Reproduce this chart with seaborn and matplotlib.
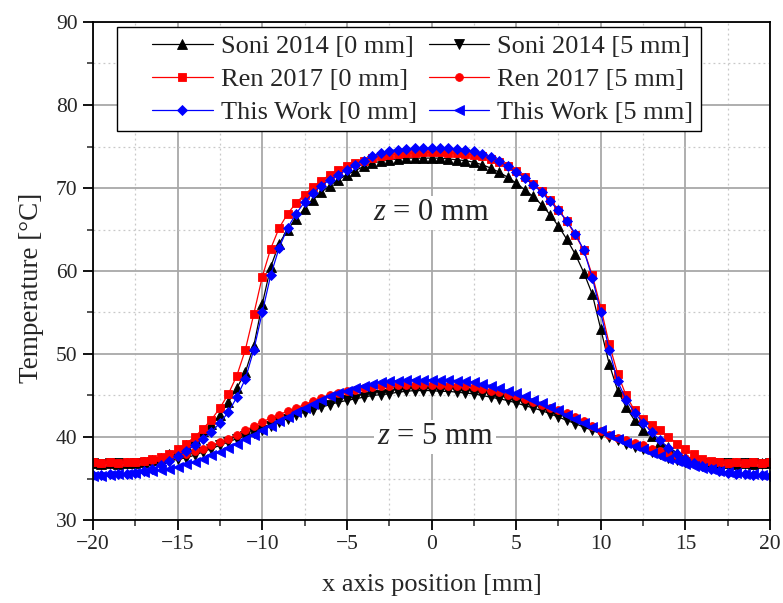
import numpy as np
import pandas as pd
import matplotlib
matplotlib.use("Agg")
import matplotlib.pyplot as plt
import seaborn as sns
from matplotlib.ticker import MultipleLocator
from matplotlib.legend_handler import HandlerLine2D

# ---------------- data ----------------
x_pos = [-20.0, -19.5, -19.0, -18.5, -18.0, -17.5, -17.0, -16.5, -16.0, -15.5,
         -15.0, -14.5, -14.0, -13.5, -13.0, -12.5, -12.0, -11.5, -11.0, -10.5,
         -10.0, -9.5, -9.0, -8.5, -8.0, -7.5, -7.0, -6.5, -6.0, -5.5,
         -5.0, -4.5, -4.0, -3.5, -3.0, -2.5, -2.0, -1.5, -1.0, -0.5,
         0.0, 0.5, 1.0, 1.5, 2.0, 2.5, 3.0, 3.5, 4.0, 4.5,
         5.0, 5.5, 6.0, 6.5, 7.0, 7.5, 8.0, 8.5, 9.0, 9.5,
         10.0, 10.5, 11.0, 11.5, 12.0, 12.5, 13.0, 13.5, 14.0, 14.5,
         15.0, 15.5, 16.0, 16.5, 17.0, 17.5, 18.0, 18.5, 19.0, 19.5, 20.0]

soni_0mm = [36.9, 36.8, 36.9, 36.8, 36.9, 36.9, 37.0, 37.2, 37.5, 37.9,
            38.4, 39.0, 39.8, 40.7, 41.6, 42.6, 44.2, 45.9, 47.8, 51.0,
            56.0, 60.5, 63.3, 65.0, 66.3, 67.5, 68.6, 69.5, 70.3, 71.0,
            71.6, 72.1, 72.6, 73.0, 73.2, 73.4, 73.5, 73.6, 73.6, 73.6,
            73.6, 73.6, 73.5, 73.4, 73.3, 73.1, 72.8, 72.4, 71.9, 71.3,
            70.6, 69.8, 69.0, 68.0, 66.8, 65.4, 63.8, 62.0, 59.8, 57.2,
            53.0, 48.8, 45.6, 43.6, 42.0, 40.9, 40.1, 39.4, 38.8, 38.1,
            37.6, 37.2, 37.0, 36.9, 36.8, 36.9, 36.8, 36.9, 36.8, 36.9, 36.9]

soni_5mm = [36.9, 36.8, 36.9, 36.9, 36.8, 36.9, 36.9, 37.0, 37.0, 37.1,
            37.3, 37.5, 37.8, 38.2, 38.6, 39.0, 39.4, 39.8, 40.1, 40.5,
            40.8, 41.3, 41.8, 42.2, 42.6, 43.0, 43.3, 43.6, 43.9, 44.2,
            44.4, 44.6, 44.8, 45.0, 45.1, 45.2, 45.4, 45.5, 45.6, 45.6,
            45.6, 45.5, 45.5, 45.4, 45.3, 45.2, 45.0, 44.8, 44.6, 44.4,
            44.1, 43.8, 43.5, 43.2, 42.8, 42.4, 42.0, 41.6, 41.2, 40.8,
            40.4, 40.0, 39.6, 39.2, 38.8, 38.5, 38.2, 37.9, 37.5, 37.2,
            37.0, 36.9, 36.9, 36.8, 36.9, 36.9, 36.8, 36.9, 36.9, 36.8, 36.9]

ren_0mm = [37.0, 36.9, 37.0, 36.9, 37.0, 37.0, 37.1, 37.3, 37.6, 38.0,
           38.5, 39.2, 40.0, 41.0, 42.1, 43.5, 45.2, 47.4, 50.5, 54.8,
           59.3, 62.7, 65.2, 66.9, 68.2, 69.2, 70.1, 70.9, 71.6, 72.2,
           72.6, 73.0, 73.3, 73.6, 73.8, 74.0, 74.1, 74.2, 74.2, 74.3,
           74.3, 74.3, 74.2, 74.2, 74.1, 74.0, 73.8, 73.5, 73.1, 72.6,
           72.0, 71.3, 70.5, 69.6, 68.6, 67.4, 66.0, 64.3, 62.5, 59.5,
           55.6, 51.2, 47.6, 45.0, 43.2, 42.2, 41.5, 40.8, 40.0, 39.2,
           38.5, 37.9, 37.4, 37.1, 37.0, 36.9, 37.0, 36.9, 37.0, 36.9, 37.0]

ren_5mm = [37.0, 36.9, 37.0, 36.9, 37.0, 37.0, 37.1, 37.2, 37.3, 37.5,
           37.7, 38.0, 38.3, 38.6, 39.0, 39.4, 39.8, 40.3, 40.8, 41.3,
           41.8, 42.3, 42.7, 43.1, 43.5, 43.9, 44.3, 44.7, 45.0, 45.3,
           45.5, 45.7, 45.9, 46.0, 46.1, 46.2, 46.3, 46.3, 46.3, 46.3,
           46.3, 46.3, 46.2, 46.2, 46.1, 46.0, 45.8, 45.6, 45.4, 45.1,
           44.9, 44.6, 44.2, 43.9, 43.5, 43.2, 42.9, 42.4, 41.9, 41.3,
           40.7, 40.3, 39.9, 39.6, 39.3, 39.0, 38.6, 38.3, 38.0, 37.7,
           37.5, 37.3, 37.1, 37.0, 37.0, 36.9, 37.0, 36.9, 37.0, 36.9, 37.0]

this_0mm = [35.4, 35.4, 35.5, 35.5, 35.6, 35.7, 35.9, 36.2, 36.6, 37.1,
            37.7, 38.3, 39.0, 39.8, 40.6, 41.7, 43.0, 44.8, 47.0, 50.5,
            55.0, 59.5, 62.8, 65.2, 66.9, 68.3, 69.4, 70.3, 71.0, 71.6,
            72.2, 72.8, 73.3, 73.8, 74.2, 74.5, 74.6, 74.7, 74.8, 74.8,
            74.8, 74.8, 74.8, 74.7, 74.6, 74.4, 74.1, 73.7, 73.2, 72.6,
            71.9, 71.2, 70.4, 69.5, 68.4, 67.3, 66.0, 64.5, 62.5, 59.2,
            55.0, 50.5, 46.7, 44.5, 42.9, 41.7, 40.6, 39.6, 38.7, 38.0,
            37.4, 36.9, 36.5, 36.2, 35.9, 35.7, 35.6, 35.5, 35.4, 35.4, 35.3]

this_5mm = [35.3, 35.3, 35.4, 35.5, 35.6, 35.7, 35.8, 35.9, 36.0, 36.2,
            36.4, 36.7, 37.0, 37.4, 37.8, 38.2, 38.7, 39.2, 39.7, 40.2,
            40.8, 41.3, 41.9, 42.4, 43.0, 43.5, 44.0, 44.5, 44.9, 45.3,
            45.6, 45.9, 46.2, 46.4, 46.6, 46.7, 46.8, 46.9, 46.9, 46.9,
            46.9, 46.9, 46.9, 46.8, 46.7, 46.6, 46.4, 46.2, 45.9, 45.6,
            45.3, 44.9, 44.5, 44.1, 43.6, 43.2, 42.7, 42.2, 41.7, 41.2,
            40.8, 40.3, 39.8, 39.3, 38.9, 38.5, 38.1, 37.7, 37.4, 37.1,
            36.8, 36.5, 36.3, 36.1, 35.9, 35.8, 35.7, 35.6, 35.5, 35.4, 35.3]

series_labels = ["Soni 2014 [0 mm]", "Soni 2014 [5 mm]",
                 "Ren 2017 [0 mm]", "Ren 2017 [5 mm]",
                 "This Work [0 mm]", "This Work [5 mm]"]
series_values = [soni_0mm, soni_5mm, ren_0mm, ren_5mm, this_0mm, this_5mm]
series_colors = ["black", "black", "#ff0000", "#ff0000", "#0000ff", "#0000ff"]
series_markers = ["^", "v", "s", "o", "D", "<"]

x_ticks = [-20, -15, -10, -5, 0, 5, 10, 15, 20]
y_ticks = [30, 40, 50, 60, 70, 80, 90]

# ---------------- style ----------------
sns.set_style("white")
plt.rcParams["font.family"] = ["Liberation Serif", "DejaVu Serif"]
plt.rcParams["mathtext.fontset"] = "custom"
plt.rcParams["mathtext.it"] = "Liberation Serif:italic"
plt.rcParams["mathtext.rm"] = "Liberation Serif"
plt.rcParams["axes.unicode_minus"] = True

fig = plt.figure(figsize=(7.83, 6.03), dpi=100)
ax = fig.add_axes([93 / 783, 83 / 603, 677 / 783, 498 / 603])

for lab, vals, col, mk in zip(series_labels, series_values, series_colors, series_markers):
    df = pd.DataFrame({"x": x_pos, "y": vals})
    msize = 6.8 if mk in ("^", "v", "<") else 5.6
    sns.lineplot(data=df, x="x", y="y", ax=ax, color=col, marker=mk,
                 markersize=msize, markeredgewidth=0.6, markeredgecolor=col,
                 linewidth=0.9, label=lab, sort=True, estimator=None)

ax.set_xlim(-20, 20)
ax.set_ylim(30, 90)
ax.set_xticks(x_ticks)
ax.set_yticks(y_ticks)
ax.xaxis.set_minor_locator(MultipleLocator(2.5))
ax.yaxis.set_minor_locator(MultipleLocator(5))
ax.grid(True, which="major", color="#a8a8a8", linewidth=1.3, linestyle="-")
ax.grid(True, which="minor", color="#c8c8c8", linewidth=0.9, linestyle=(0, (1.5, 2.5)))
ax.set_axisbelow(True)
ax.tick_params(axis="both", which="major", direction="out", length=7.5, width=1.3,
               labelsize=15.5, color="black", bottom=True, left=True, top=False, right=False)
ax.tick_params(axis="both", which="minor", direction="out", length=4.3, width=1.1,
               bottom=True, left=True, top=False, right=False)
for sp in ax.spines.values():
    sp.set_color("black")
    sp.set_linewidth(1.3)

ax.set_xlabel("x axis position [mm]", fontsize=19, labelpad=14)
ax.set_ylabel("Temperature [°C]", fontsize=19.5)
ax.yaxis.set_label_coords(-0.072, 0.466)

bbox = dict(facecolor="white", edgecolor="none", pad=2)
ax.text(0, 67.0, r"$z$ = 0 mm", fontsize=22, ha="center", va="center", bbox=bbox, zorder=1.5)
ax.text(0.2, 40.0, r"$z$ = 5 mm", fontsize=22, ha="center", va="center", bbox=bbox, zorder=1.5)


class PadHandler(HandlerLine2D):
    """Line handle drawn in the right part of the handle box (leaves left gap)."""
    def __init__(self, off_em, **kw):
        super().__init__(**kw)
        self.off_em = off_em

    def create_artists(self, legend, orig_handle, xdescent, ydescent, width, height,
                       fontsize, trans):
        off = self.off_em * fontsize
        return super().create_artists(legend, orig_handle, xdescent - off, ydescent,
                                      width - off, height, fontsize, trans)


h, l = ax.get_legend_handles_labels()
order = [0, 2, 4, 1, 3, 5]
hs = [h[i] for i in order]
leg_fs = 19
off_em = 1.05
hmap = {hh: PadHandler(off_em, numpoints=1) for hh in hs}
leg = ax.legend(hs, [l[i] for i in order], ncol=2, handler_map=hmap,
                loc="upper left", bbox_to_anchor=(24 / 677, 493 / 498), borderaxespad=0,
                fontsize=leg_fs, frameon=True, fancybox=False, edgecolor="black",
                framealpha=1, handlelength=off_em + 2.3, handletextpad=0.3,
                columnspacing=0.45 - off_em, labelspacing=0.36, borderpad=0.28)
leg.get_frame().set_linewidth(1.0)

fig.savefig("out.png", dpi=100)
